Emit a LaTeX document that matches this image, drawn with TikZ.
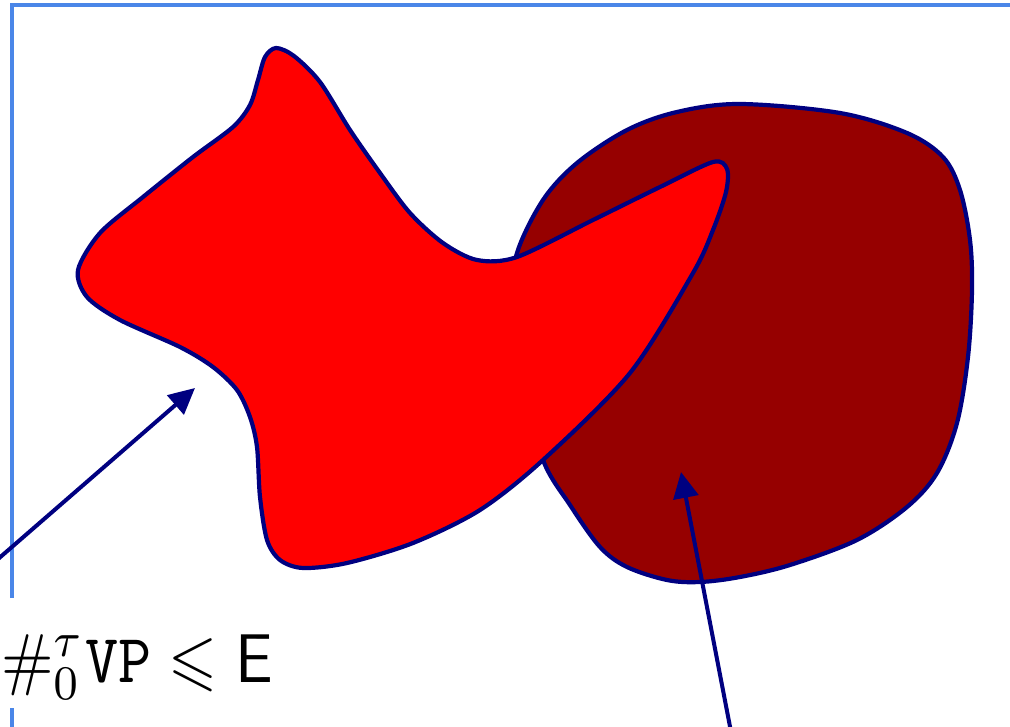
\documentclass[tikz,border=0pt]{standalone}
\usepackage{amssymb}
\usepackage{graphicx}
\usetikzlibrary{arrows.meta}
\definecolor{frameBlue}{HTML}{4A86E8}
\definecolor{edgeNavy}{HTML}{000080}
\definecolor{blobRed}{HTML}{FF0000}
\definecolor{blobDark}{HTML}{960000}

\begin{document}
\begin{tikzpicture}[x=1pt, y=-1pt,
    blob/.style={draw=edgeNavy, line width=4.2pt, fill=#1},
    pointer/.style={draw=edgeNavy, line width=4pt,
                    -{Triangle[length=26pt, width=25pt]}},
    frameline/.style={draw=frameBlue, line width=4.5pt},
  ]
    \clip (0,0) rectangle (1010,727);
    % frame
    \draw[frameline] (12,598) -- (12,5) -- (1020,5);
    \draw[frameline] (12,708) -- (12,740);

    % dark blob (behind)
    \path[blob=blobDark] plot[smooth cycle, tension=0.55] coordinates {
      (517,253) (543,200) (577,163) (627,130) (677,112) (740,104)
      (840,113) (907,133) (943,157) (960,190) (970,240) (972,290)
      (968,357) (957,423) (937,473) (907,507) (857,540) (790,565)
      (740,577) (700,582) (667,580) (627,567) (600,547) (570,505)
      (543,460) (522,380) (513,300)};

    % red blob (front)
    \path[blob=blobRed] plot[smooth cycle, tension=0.5] coordinates {
      (78,270) (100,233) (143,197) (193,157) (233,127) (250,105)
      (258,80) (265,57) (276,48) (294,56) (320,82) (350,130)
      (380,173) (410,213) (443,243) (477,260) (517,257) (593,220)
      (660,187) (713,162) (727,169) (726,192) (713,230) (693,273)
      (630,373) (543,460) (480,510) (413,543) (347,563) (303,568)
      (280,560) (267,540) (260,497) (257,447) (250,417) (237,390)
      (213,367) (180,347) (120,320) (87,297)};

    % label
    \node[anchor=base west, inner sep=0pt] (lbl) at (1,682)
      {\scalebox{6.3}[6.9]{$\#_0^{\tau}\mathtt{VP}\leqslant\mathsf{E}$}};

    % arrows
    \coordinate (inRed) at (195,388);
    \coordinate (inDark) at (681,472);
    \coordinate (fromLeft) at (-10,566);
    \coordinate (fromBottom) at (732,737);
    \draw[pointer] (fromLeft) -- (inRed);
    \draw[pointer] (fromBottom) -- (inDark);
\end{tikzpicture}
\end{document}
